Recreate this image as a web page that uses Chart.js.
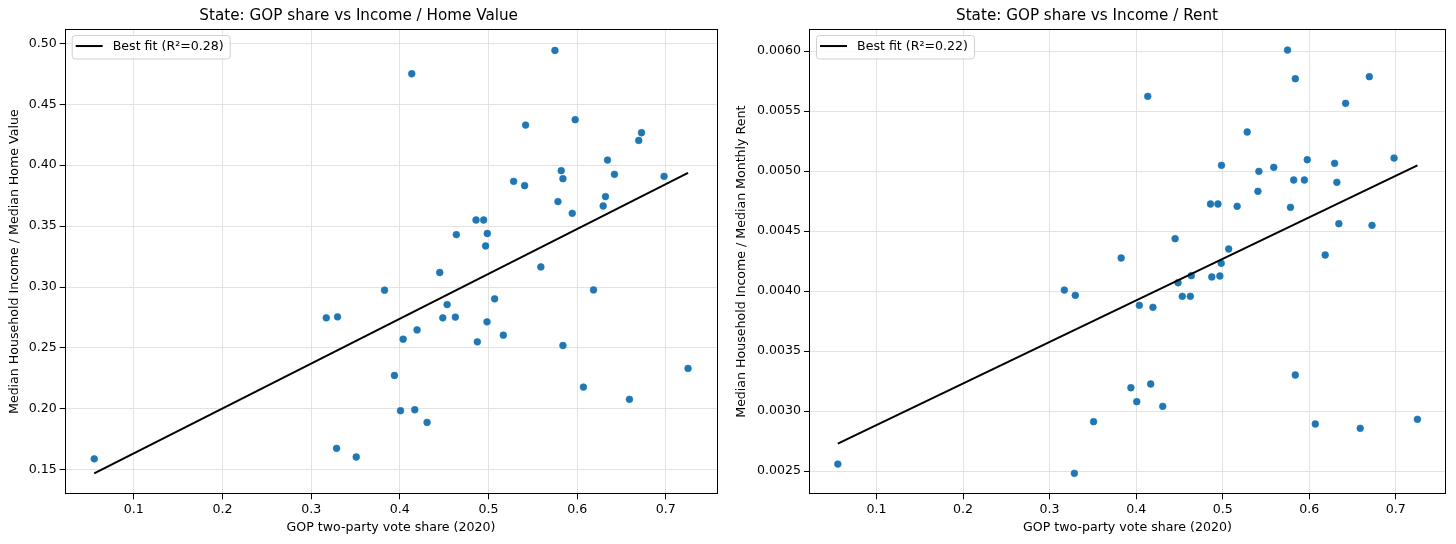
<!DOCTYPE html>
<html>
<head>
<meta charset="utf-8">
<script src="https://cdn.jsdelivr.net/npm/chart.js@4.4.1/dist/chart.umd.min.js"></script>
<style>
  html, body { margin: 0; padding: 0; background: #fff; }
  #wrap { position: relative; width: 1456px; height: 544px; }
  canvas { position: absolute; top: 0; }
</style>
</head>
<body>
<div id="wrap">
  <canvas id="homeChart" width="728" height="544" style="left:0"></canvas>
  <canvas id="rentChart" width="728" height="544" style="left:728px"></canvas>
</div>
<script>
// one entry per state, same order in every array
const gopShare = [
  0.0553, 0.317, 0.3286, 0.3297, 0.3508, 0.3827, 0.3939, 0.4007, 0.4037, 0.4134,
  0.4168, 0.4194, 0.4307, 0.445, 0.4484, 0.4533, 0.4626, 0.4637, 0.4859, 0.4874,
  0.4945, 0.4967, 0.4983, 0.4986, 0.5069, 0.5167, 0.5283, 0.5407, 0.5418, 0.559,
  0.5749, 0.5783, 0.582, 0.5839, 0.5839, 0.5944, 0.5977, 0.607, 0.6184, 0.6293,
  0.6319, 0.6342, 0.642, 0.6589, 0.6694, 0.6725, 0.698, 0.725
];
const incomeToHomeValue = [
  0.159, 0.2747, 0.1676, 0.2755, 0.1605, 0.2974, 0.2274, 0.1985, 0.2572, 0.475,
  0.1993, 0.2648, 0.1889, 0.3119, 0.2747, 0.2856, 0.2753, 0.343, 0.355, 0.255,
  0.355, 0.3337, 0.2714, 0.3439, 0.2903, 0.2605, 0.3867, 0.3832, 0.4329, 0.3165,
  0.4941, 0.3701, 0.3955, 0.3889, 0.252, 0.3605, 0.4373, 0.2179, 0.2976, 0.3665,
  0.3742, 0.4042, 0.3925, 0.2078, 0.4203, 0.4266, 0.3908, 0.2332
];
const incomeToRent = [
  0.002558, 0.004008, 0.002481, 0.003964, 0.002911, 0.004275, 0.003194, 0.003078, 0.003881, 0.005622,
  0.003225, 0.003864, 0.003039, 0.004436, 0.004069, 0.003956, 0.003956, 0.004128, 0.004725, 0.004117,
  0.004725, 0.004125, 0.004231, 0.005047, 0.00435, 0.004706, 0.005325, 0.004831, 0.004997, 0.005031,
  0.006008, 0.004697, 0.004925, 0.005769, 0.0033, 0.004925, 0.005094, 0.002892, 0.0043, 0.005064,
  0.004906, 0.004561, 0.005564, 0.002856, 0.005786, 0.004547, 0.005108, 0.002931
];
const homeFitLabel = 'Best fit (R\u00b2=0.28)';
const rentFitLabel = 'Best fit (R\u00b2=0.22)';

const FONT = '"DejaVu Sans", "Liberation Sans", sans-serif';
const DOT = '#1f77b4';

// least squares line across the x range
function bestFit(xs, ys) {
  const n = xs.length;
  const mx = xs.reduce((a, b) => a + b, 0) / n;
  const my = ys.reduce((a, b) => a + b, 0) / n;
  let sxy = 0, sxx = 0;
  xs.forEach((x, i) => {
    sxy += (x - mx) * (ys[i] - my);
    sxx += (x - mx) * (x - mx);
  });
  const slope = sxy / sxx;
  const lo = Math.min(...xs);
  const hi = Math.max(...xs);
  return [
    { x: lo, y: my + slope * (lo - mx) },
    { x: hi, y: my + slope * (hi - mx) }
  ];
}

// matplotlib style box around the axes + legend in the corner
const framePlugin = {
  id: 'frame',
  afterDraw(chart, args, opts) {
    const { ctx, chartArea: a } = chart;
    ctx.save();
    ctx.strokeStyle = '#000';
    ctx.lineWidth = 1;
    ctx.strokeRect(Math.round(a.left) + 0.5, Math.round(a.top) + 0.5,
      Math.round(a.right - a.left) - 1, Math.round(a.bottom - a.top) - 1);

    ctx.font = '12.6px ' + FONT;
    const tw = ctx.measureText(opts.text).width;
    const bx = a.left + 7, by = a.top + 6;
    const bw = 4 + 27 + 10 + tw + 6, bh = 23.5;
    ctx.beginPath();
    ctx.roundRect(bx + 0.5, by + 0.5, bw, bh, 3);
    ctx.fillStyle = 'rgba(255,255,255,0.8)';
    ctx.fill();
    ctx.strokeStyle = '#d0d0d0';
    ctx.stroke();
    const ly = by + 11;
    ctx.beginPath();
    ctx.moveTo(bx + 4, ly);
    ctx.lineTo(bx + 31, ly);
    ctx.strokeStyle = '#000';
    ctx.lineWidth = 2;
    ctx.stroke();
    ctx.fillStyle = '#000';
    ctx.textBaseline = 'middle';
    ctx.fillText(opts.text, bx + 41, ly + 0.5);
    ctx.restore();
  }
};

function makeChart(id, ys, c) {
  return new Chart(document.getElementById(id), {
    data: {
      datasets: [
        {
          type: 'scatter',
          label: 'States',
          data: gopShare.map((x, i) => ({ x: x, y: ys[i] })),
          backgroundColor: DOT,
          borderColor: DOT,
          borderWidth: 0.6,
          pointRadius: 3.4,
          order: 2
        },
        {
          type: 'line',
          label: c.fitLabel,
          data: bestFit(gopShare, ys),
          borderColor: '#000',
          borderWidth: 2,
          pointRadius: 0,
          fill: false,
          order: 1
        }
      ]
    },
    options: {
      responsive: false,
      animation: false,
      events: [],
      layout: { padding: { left: 0, right: c.padRight, top: 0, bottom: 0 } },
      plugins: {
        legend: { display: false },
        tooltip: { enabled: false },
        title: {
          display: true,
          text: c.title,
          color: '#000',
          font: { family: FONT, size: 15.2, weight: 'normal' },
          padding: { top: 7, bottom: 3.8 }
        },
        frame: { text: c.fitLabel }
      },
      scales: {
        x: {
          type: 'linear',
          min: 0.022,
          max: 0.758,
          afterFit: (s) => { s.height = 49.7; },
          border: { display: false },
          grid: { color: '#e3e3e3', lineWidth: 1, tickColor: '#000', tickLength: 5, tickWidth: 1 },
          ticks: {
            stepSize: 0.1,
            includeBounds: false,
            padding: 3,
            color: '#000',
            font: { family: FONT, size: 12.6 },
            callback: (v) => v.toFixed(1)
          },
          title: {
            display: true,
            text: 'GOP two-party vote share (2020)',
            color: '#000',
            font: { family: FONT, size: 12.6 },
            padding: { top: 0, bottom: 9 }
          }
        },
        y: {
          type: 'linear',
          min: c.yMin,
          max: c.yMax,
          afterFit: (s) => { s.width = c.yWidth; },
          border: { display: false },
          grid: { color: '#e3e3e3', lineWidth: 1, tickColor: '#000', tickLength: 5, tickWidth: 1 },
          ticks: {
            stepSize: c.yStep,
            includeBounds: false,
            padding: 3,
            color: '#000',
            font: { family: FONT, size: 12.6 },
            callback: (v) => v.toFixed(c.yDigits)
          },
          title: {
            display: true,
            text: c.yLabel,
            color: '#000',
            font: { family: FONT, size: 12.6 },
            padding: { top: c.yTitlePad, bottom: 0 }
          }
        }
      }
    },
    plugins: [framePlugin]
  });
}

makeChart('homeChart', incomeToHomeValue, {
  title: 'State: GOP share vs Income / Home Value',
  yLabel: 'Median Household Income / Median Home Value',
  fitLabel: homeFitLabel,
  yMin: 0.1299, yMax: 0.5117, yStep: 0.05, yDigits: 2,
  yWidth: 64.7, yTitlePad: 7.4, padRight: 10.7
});

makeChart('rentChart', incomeToRent, {
  title: 'State: GOP share vs Income / Rent',
  yLabel: 'Median Household Income / Median Monthly Rent',
  fitLabel: rentFitLabel,
  yMin: 0.002306, yMax: 0.006183, yStep: 0.0005, yDigits: 4,
  yWidth: 81, yTitlePad: 6.4, padRight: 10
});
</script>
</body>
</html>
